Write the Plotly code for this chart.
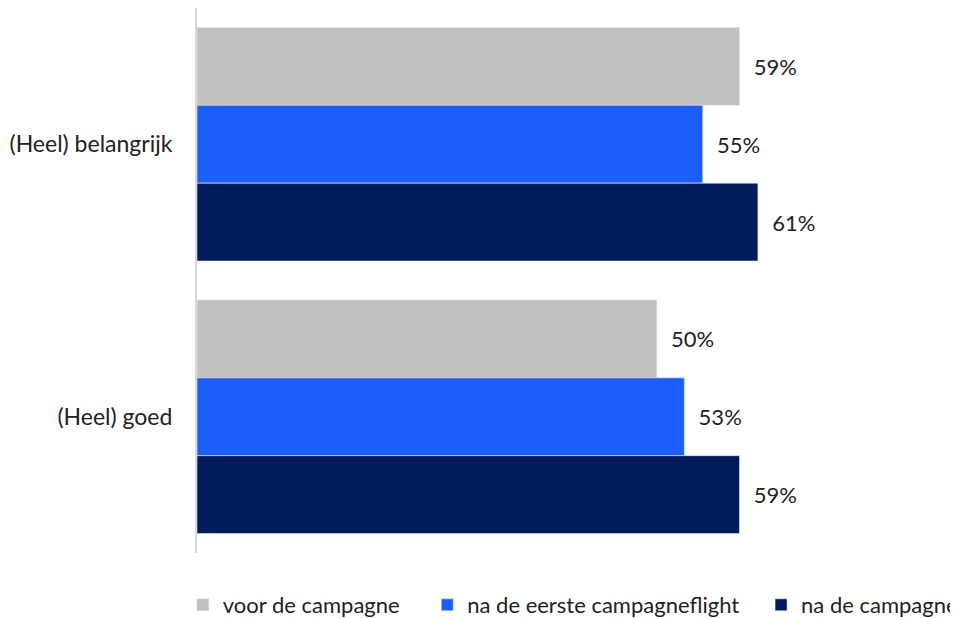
import plotly.graph_objects as go

categories = ["(Heel) belangrijk", "(Heel) goed"]
series_names = ["voor de campagne", "na de eerste campagneflight", "na de campagne"]
voor = [59, 50]
na_eerste = [55, 53]
na = [61, 59]
colors = ["#BFBFBF", "#1B5EFB", "#001B5C"]

FONT = "Lato"
TXT = "#222222"
FS = 23
PADS = ["\u00a0" * 4, "\u00a0" * 3, ""]

fig = go.Figure()
for name, vals, col, pad in zip(series_names, [voor, na_eerste, na], colors, PADS):
    fig.add_trace(go.Bar(
        y=categories, x=vals, name=name + pad, orientation="h",
        marker=dict(color=col, line=dict(width=0.6, color="#e6e6e6")),
        text=[f"\u00a0\u00a0{v}%" for v in vals],
        textposition="outside", cliponaxis=False,
        textfont=dict(family=FONT, size=22, color=TXT),
    ))

fig.update_layout(
    width=965, height=650,
    margin=dict(l=189, r=22, t=0, b=105),
    paper_bgcolor="white", plot_bgcolor="white",
    barmode="group", bargap=0.143, bargroupgap=0,
    showlegend=True,
    legend=dict(orientation="h", x=-0.0188, xanchor="left",
                y=-0.0954, yanchor="middle",
                font=dict(family=FONT, size=22, color=TXT), itemwidth=30,
                traceorder="normal"),
    xaxis=dict(range=[0, 82], showgrid=False, zeroline=False, showticklabels=False,
               showline=False, ticks=""),
    yaxis=dict(autorange="reversed", showgrid=False, zeroline=False,
               showline=True, linecolor="#D9D9D9", linewidth=2,
               ticks="", ticklabelstandoff=18,
               tickfont=dict(family=FONT, size=FS, color=TXT)),
    font=dict(family=FONT),
)

fig.write_html("out.html")
